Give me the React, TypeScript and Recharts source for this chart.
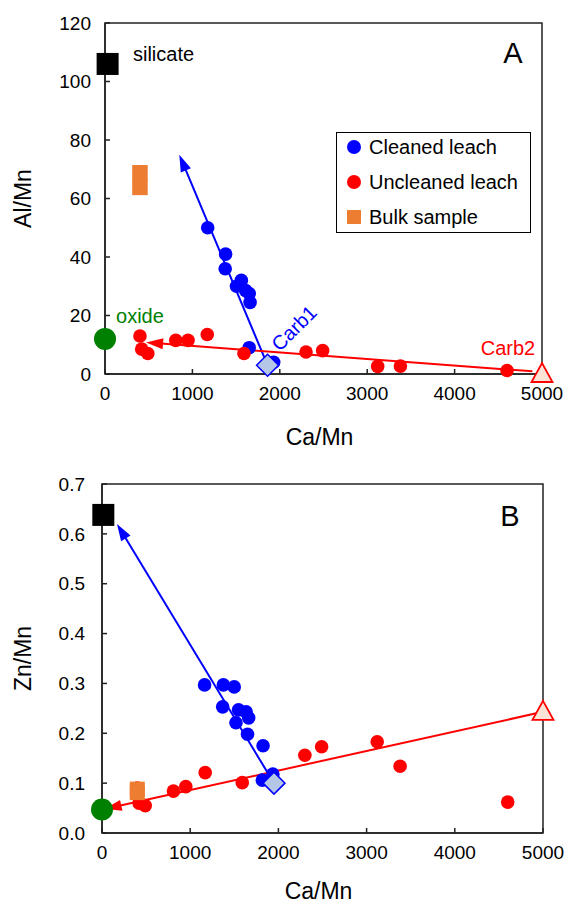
import React from "react";
import {
  ScatterChart,
  Scatter,
  XAxis,
  YAxis,
  ReferenceLine,
  ReferenceDot,
  ReferenceArea,
  Legend,
} from "recharts";

const FONT = "'Liberation Sans', Arial, Helvetica, sans-serif";
const AXIS = "#222";
const BLUE = "#0000ff";
const RED = "#ff0000";
const GREEN = "#008000";
const ORANGE = "#ed7d31";

// ticks
const caTicks = [0, 1000, 2000, 3000, 4000, 5000];
const alTicks = [0, 20, 40, 60, 80, 100, 120];
const znTicks = [0, 0.1, 0.2, 0.3, 0.4, 0.5, 0.6, 0.7];

// legend entries, in the order shown
const legendOrder = ["Cleaned leach", "Uncleaned leach", "Bulk sample"];

// panel A : Al/Mn vs Ca/Mn
const cleanedCaA = [1175, 1380, 1375, 1505, 1560, 1610, 1650, 1660, 1650, 1930];
const cleanedAl = [50, 41, 36, 30, 32, 28.5, 27.5, 24.5, 9, 4];
const uncleanedCa = [400, 420, 490, 810, 950, 1170, 1590, 2300, 2490, 3120, 3380, 4600];
const uncleanedAl = [13, 8.5, 7, 11.5, 11.5, 13.5, 7, 7.5, 8, 2.6, 2.7, 1.2];
const bulkCa = [400, 400];
const bulkAl = [68.8, 63.8];

// panel B : Zn/Mn vs Ca/Mn
const cleanedCaB = [1163, 1376, 1499, 1368, 1548, 1634, 1663, 1519, 1650, 1826, 1818, 1937];
const cleanedZn = [0.297, 0.297, 0.293, 0.253, 0.247, 0.243, 0.231, 0.221, 0.198, 0.175, 0.106, 0.118];
const uncleanedZn = [0.09, 0.06, 0.055, 0.084, 0.093, 0.121, 0.101, 0.156, 0.173, 0.183, 0.134, 0.062];
const bulkZn = [0.088, 0.081];

// end members: silicate, oxide, Carb1, Carb2
const endCaA = [30, 0, 1860, 5000];
const endAl = [106, 12, 3, 0];
const endCaB = [15, 0, 1950, 5000];
const endZn = [0.638, 0.047, 0.1, 0.243];

// mixing arrows [from, to]
const arrowFromCaA = [1860, 4890];
const arrowFromAl = [3, 0.9];
const arrowToCaA = [850, 470];
const arrowToAl = [75, 10.8];
const arrowFromCaB = [1950, 5000];
const arrowFromZn = [0.1, 0.243];
const arrowToCaB = [170, 30];
const arrowToZn = [0.62, 0.048];

type Pt = { x: number; y: number };
const zip = (xs: number[], ys: number[]): Pt[] => xs.map((x, i) => ({ x, y: ys[i] }));

const dot = (color: string, r: number) => (p: any) =>
  <circle cx={p.cx} cy={p.cy} r={r} fill={color} />;

const square = (color: string, s: number) => (p: any) =>
  <rect x={p.cx - s / 2} y={p.cy - s / 2} width={s} height={s} fill={color} />;

const diamond = (p: any) => {
  const h = 11;
  return (
    <polygon
      points={`${p.cx},${p.cy - h} ${p.cx + h},${p.cy} ${p.cx},${p.cy + h} ${p.cx - h},${p.cy}`}
      fill="#b4c7e7"
      stroke={BLUE}
      strokeWidth={1.5}
    />
  );
};

const triangle = (p: any) => (
  <polygon
    points={`${p.cx},${p.cy - 11} ${p.cx + 10.5},${p.cy + 8} ${p.cx - 10.5},${p.cy + 8}`}
    fill="#fbe3d6"
    stroke={RED}
    strokeWidth={1.8}
  />
);

const arrowShape = (color: string) => (p: any) => {
  const x1 = Number(p.x1), y1 = Number(p.y1), x2 = Number(p.x2), y2 = Number(p.y2);
  const len = Math.hypot(x2 - x1, y2 - y1) || 1;
  const ux = (x2 - x1) / len;
  const uy = (y2 - y1) / len;
  const L = 17, W = 5.5;
  const bx = x2 - ux * L;
  const by = y2 - uy * L;
  return (
    <g>
      <line x1={x1} y1={y1} x2={bx + ux * 2} y2={by + uy * 2} stroke={color} strokeWidth={2} />
      <polygon
        points={`${x2},${y2} ${bx - uy * W},${by + ux * W} ${bx + uy * W},${by - ux * W}`}
        fill={color}
      />
    </g>
  );
};

const note = (
  key: string,
  x: number,
  y: number,
  text: string,
  color: string,
  size = 20,
  anchor: "start" | "middle" | "end" = "middle",
  rotate = 0
) => (
  <ReferenceDot
    key={key}
    x={x}
    y={y}
    r={0}
    ifOverflow="visible"
    shape={(p: any) => (
      <text
        x={p.cx}
        y={p.cy}
        fill={color}
        fontSize={size}
        fontFamily={FONT}
        textAnchor={anchor}
        dominantBaseline="central"
        transform={rotate ? `rotate(${rotate} ${p.cx} ${p.cy})` : undefined}
      >
        {text}
      </text>
    )}
  />
);

const LegendBox = (props: any) => {
  const items = (props.payload || [])
    .filter((e: any) => e.type !== "none")
    .sort((a: any, b: any) => legendOrder.indexOf(a.value) - legendOrder.indexOf(b.value));
  return (
    <div
      style={{
        position: "relative",
        width: 195,
        height: 101,
        border: "1.5px solid #000",
        boxSizing: "border-box",
        background: "#fff",
        fontFamily: FONT,
        fontSize: 20,
        color: "#000",
      }}
    >
      {items.map((e: any, i: number) => (
        <div
          key={e.value}
          style={{ position: "absolute", left: 0, top: 2 + i * 35, height: 24, display: "flex", alignItems: "center" }}
        >
          <svg width={32} height={24} style={{ display: "block" }}>
            {e.type === "square" ? (
              <rect x={10} y={5} width={14} height={14} fill={e.color} />
            ) : (
              <circle cx={17} cy={12} r={7} fill={e.color} />
            )}
          </svg>
          <span style={{ whiteSpace: "nowrap" }}>{e.value}</span>
        </div>
      ))}
    </div>
  );
};

const xTitle = (dy: number) => (lp: any) => {
  const vb = lp.viewBox || { x: 0, y: 0, width: 0, height: 0 };
  return (
    <text
      x={vb.x + vb.width / 2 - 4}
      y={vb.y + dy}
      fontSize={23}
      fontFamily={FONT}
      fill="#000"
      textAnchor="middle"
      dominantBaseline="central"
    >
      Ca/Mn
    </text>
  );
};

const yTitle = (title: string) => (lp: any) => {
  const vb = lp.viewBox || { x: 0, y: 0, width: 0, height: 0 };
  const cx = vb.x + 23;
  const cy = vb.y + vb.height / 2;
  return (
    <text
      x={cx}
      y={cy}
      fontSize={23}
      fontFamily={FONT}
      fill="#000"
      textAnchor="middle"
      dominantBaseline="central"
      transform={`rotate(-90 ${cx} ${cy})`}
    >
      {title}
    </text>
  );
};

const tickStyle = { fill: "#000", fontSize: 19, fontFamily: FONT };

function PanelA() {
  const ends = zip(endCaA, endAl);
  return (
    <ScatterChart width={566} height={450} margin={{ top: 23, right: 24, left: 0, bottom: 0 }}>
      <XAxis
        type="number"
        dataKey="x"
        domain={[0, 5000]}
        ticks={caTicks}
        interval={0}
        height={76}
        axisLine={{ stroke: AXIS, strokeWidth: 1.5 }}
        tickLine={{ stroke: AXIS, strokeWidth: 1.5 }}
        tickSize={-5}
        tickMargin={18}
        tick={tickStyle}
        label={{ content: xTitle(63) }}
      />
      <YAxis
        type="number"
        dataKey="y"
        domain={[0, 120]}
        ticks={alTicks}
        interval={0}
        width={105}
        axisLine={{ stroke: AXIS, strokeWidth: 1.5 }}
        tickLine={{ stroke: AXIS, strokeWidth: 1.5 }}
        tickSize={-5}
        tickMargin={19}
        tick={tickStyle}
        label={{ content: yTitle("Al/Mn") }}
      />
      <ReferenceArea x1={0} x2={5000} y1={0} y2={120} fill="none" stroke={AXIS} strokeWidth={1.5} />
      {arrowFromCaA.map((_, i) => (
        <ReferenceLine
          key={"arA" + i}
          ifOverflow="visible"
          segment={[
            { x: arrowFromCaA[i], y: arrowFromAl[i] },
            { x: arrowToCaA[i], y: arrowToAl[i] },
          ]}
          shape={arrowShape(i === 0 ? BLUE : RED)}
        />
      ))}
      <Scatter name="Cleaned leach" data={zip(cleanedCaA, cleanedAl)} fill={BLUE} legendType="circle" shape={dot(BLUE, 6.8)} isAnimationActive={false} />
      <Scatter name="Uncleaned leach" data={zip(uncleanedCa, uncleanedAl)} fill={RED} legendType="circle" shape={dot(RED, 6.8)} isAnimationActive={false} />
      <Scatter name="Bulk sample" data={zip(bulkCa, bulkAl)} fill={ORANGE} legendType="square" shape={square(ORANGE, 15.5)} isAnimationActive={false} />
      <Scatter name="silicate" data={[ends[0]]} fill="#000" legendType="none" shape={square("#000", 22)} isAnimationActive={false} />
      <Scatter name="oxide" data={[ends[1]]} fill={GREEN} legendType="none" shape={dot(GREEN, 11)} isAnimationActive={false} />
      <Scatter name="Carb1" data={[ends[2]]} fill="#b4c7e7" legendType="none" shape={diamond} isAnimationActive={false} />
      <Scatter name="Carb2" data={[ends[3]]} fill="#fbe3d6" legendType="none" shape={triangle} isAnimationActive={false} />
      {note("A", 4668, 109.7, "A", "#000", 29)}
      {note("sil", 320, 109.4, "silicate", "#000", 20, "start")}
      {note("ox", 400, 19.8, "oxide", GREEN, 20)}
      {note("c1", 2162, 15.7, "Carb1", BLUE, 20, "middle", -45)}
      {note("c2", 4611, 8.9, "Carb2", RED, 20)}
      <Legend
        layout="vertical"
        align="center"
        verticalAlign="middle"
        content={LegendBox}
        wrapperStyle={{ left: 336, top: 132, width: 195, height: 101 }}
      />
    </ScatterChart>
  );
}

function PanelB() {
  const ends = zip(endCaB, endZn);
  return (
    <ScatterChart width={566} height={455} margin={{ top: 34, right: 23, left: 0, bottom: 0 }}>
      <XAxis
        type="number"
        dataKey="x"
        domain={[0, 5000]}
        ticks={caTicks}
        interval={0}
        height={72}
        axisLine={{ stroke: AXIS, strokeWidth: 1.5 }}
        tickLine={{ stroke: AXIS, strokeWidth: 1.5 }}
        tickSize={-5}
        tickMargin={18}
        tick={tickStyle}
        label={{ content: xTitle(58) }}
      />
      <YAxis
        type="number"
        dataKey="y"
        domain={[0, 0.7]}
        ticks={znTicks}
        interval={0}
        width={102}
        axisLine={{ stroke: AXIS, strokeWidth: 1.5 }}
        tickLine={{ stroke: AXIS, strokeWidth: 1.5 }}
        tickSize={-5}
        tickMargin={22}
        tick={tickStyle}
        tickFormatter={(v: number) => v.toFixed(1)}
        label={{ content: yTitle("Zn/Mn") }}
      />
      <ReferenceArea x1={0} x2={5000} y1={0} y2={0.7} fill="none" stroke={AXIS} strokeWidth={1.5} />
      {arrowFromCaB.map((_, i) => (
        <ReferenceLine
          key={"arB" + i}
          ifOverflow="visible"
          segment={[
            { x: arrowFromCaB[i], y: arrowFromZn[i] },
            { x: arrowToCaB[i], y: arrowToZn[i] },
          ]}
          shape={arrowShape(i === 0 ? BLUE : RED)}
        />
      ))}
      <Scatter name="Uncleaned leach" data={zip(uncleanedCa, uncleanedZn)} fill={RED} legendType="none" shape={dot(RED, 6.8)} isAnimationActive={false} />
      <Scatter name="Cleaned leach" data={zip(cleanedCaB, cleanedZn)} fill={BLUE} legendType="none" shape={dot(BLUE, 6.8)} isAnimationActive={false} />
      <Scatter name="Bulk sample" data={zip(bulkCa, bulkZn)} fill={ORANGE} legendType="none" shape={square(ORANGE, 15)} isAnimationActive={false} />
      <Scatter name="silicate" data={[ends[0]]} fill="#000" legendType="none" shape={square("#000", 22)} isAnimationActive={false} />
      <Scatter name="oxide" data={[ends[1]]} fill={GREEN} legendType="none" shape={dot(GREEN, 11)} isAnimationActive={false} />
      <Scatter name="Carb1" data={[ends[2]]} fill="#b4c7e7" legendType="none" shape={diamond} isAnimationActive={false} />
      <Scatter name="Carb2" data={[ends[3]]} fill="#fbe3d6" legendType="none" shape={triangle} isAnimationActive={false} />
      {note("B", 4626, 0.636, "B", "#000", 29)}
    </ScatterChart>
  );
}

export default function App() {
  return (
    <div style={{ position: "absolute", left: 0, top: 0, width: 566, height: 905, background: "#fff", fontFamily: FONT }}>
      <PanelA />
      <PanelB />
    </div>
  );
}
